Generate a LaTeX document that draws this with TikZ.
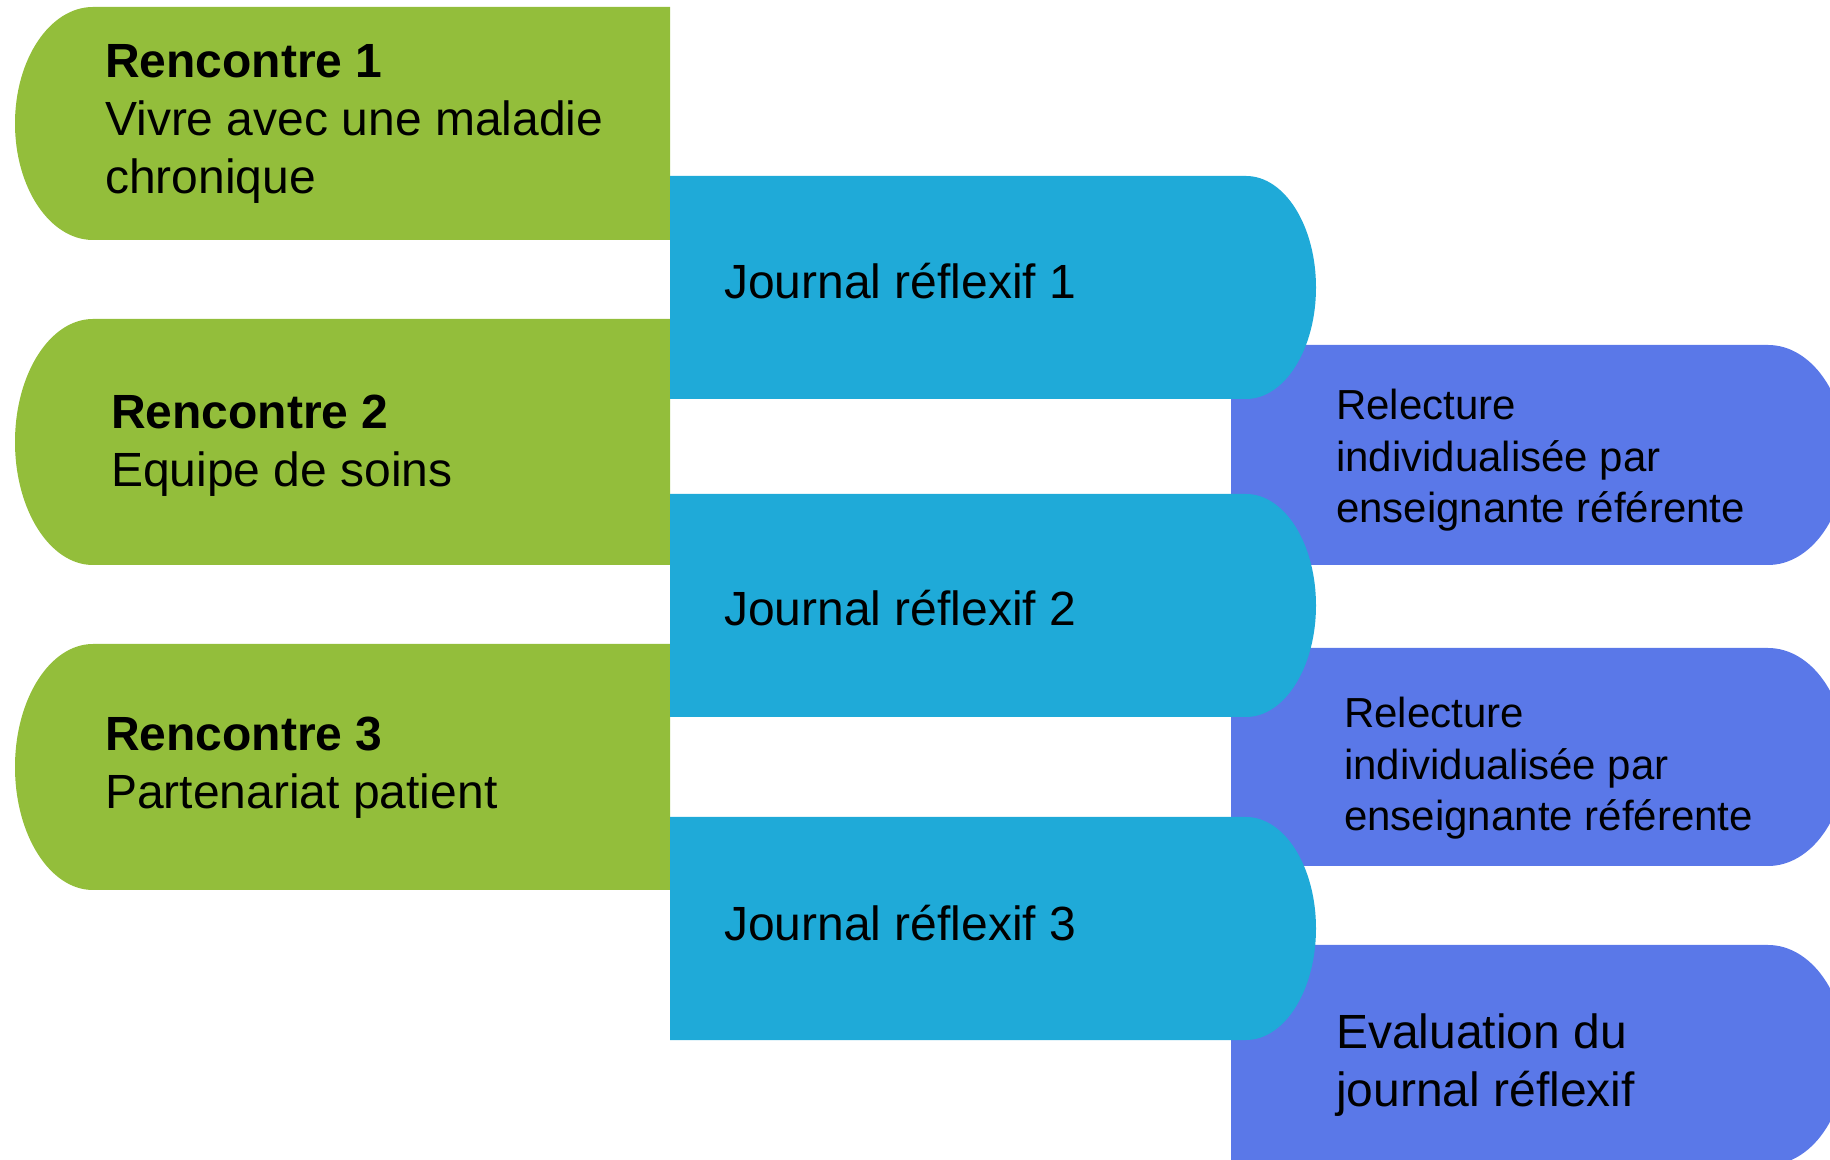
\documentclass[tikz,border=0pt]{standalone}
\usepackage{fontspec}
\setmainfont{Liberation Sans}
\definecolor{cgreen}{RGB}{147,190,59}
\definecolor{cblue}{RGB}{31,170,216}
\definecolor{cpurple}{RGB}{90,120,232}
\begin{document}
\begin{tikzpicture}[x=1pt,y=1pt,
  big/.style={font=\fontsize{48}{58}\selectfont, inner sep=0pt, align=left, text=black},
  small/.style={font=\fontsize{42}{51.5}\selectfont, inner sep=0pt, align=left, text=black}]
\useasboundingbox (0,0) rectangle (1830,1159);
\clip (0,0) rectangle (1830,1159);
% green boxes (rounded left)
\fill[cgreen] (670,1152) -- (93,1152) arc[start angle=90,end angle=270,x radius=78,y radius=116.5] -- (670,919) -- cycle;
\fill[cgreen] (670,840) -- (93,840) arc[start angle=90,end angle=270,x radius=78,y radius=123] -- (670,594) -- cycle;
\fill[cgreen] (670,515) -- (93,515) arc[start angle=90,end angle=270,x radius=78,y radius=123] -- (670,269) -- cycle;
% purple boxes (rounded right)
\fill[cpurple] (1231,814) -- (1768,814) arc[start angle=90,end angle=-90,x radius=78,y radius=110] -- (1231,594) -- cycle;
\fill[cpurple] (1231,511) -- (1768,511) arc[start angle=90,end angle=-90,x radius=78,y radius=109] -- (1231,293) -- cycle;
\fill[cpurple] (1231,214) -- (1768,214) arc[start angle=90,end angle=-90,x radius=78,y radius=110] -- (1231,-6) -- cycle;
% blue boxes (rounded right)
\fill[cblue] (670,983) -- (1246,983) arc[start angle=90,end angle=-90,x radius=70,y radius=111.5] -- (670,760) -- cycle;
\fill[cblue] (670,665) -- (1246,665) arc[start angle=90,end angle=-90,x radius=70,y radius=111.5] -- (670,442) -- cycle;
\fill[cblue] (670,342) -- (1246,342) arc[start angle=90,end angle=-90,x radius=70,y radius=111.5] -- (670,119) -- cycle;
% texts
\node[big, anchor=west] (r1) at (105,1034.7) {\textbf{Rencontre 1}\\Vivre avec une maladie\\chronique};
\node[big, anchor=west] (r2) at (111,713.2) {\textbf{Rencontre 2}\\Equipe de soins};
\node[big, anchor=west] (r3) at (105,391.7) {\textbf{Rencontre 3}\\Partenariat patient};
\node[big, anchor=base west] (j1) at (724,860) {Journal réflexif 1};
\node[big, anchor=base west] (j2) at (724,533) {Journal réflexif 2};
\node[big, anchor=base west] (j3) at (724,218) {Journal réflexif 3};
\node[small, anchor=west] (p1) at (1336,698.5) {Relecture\\individualisée par\\enseignante référente};
\node[small, anchor=west] (p2) at (1344,390.5) {Relecture\\individualisée par\\enseignante référente};
\node[big, anchor=west] (p3) at (1336,93.5) {Evaluation du\\journal réflexif};
\end{tikzpicture}
\end{document}
